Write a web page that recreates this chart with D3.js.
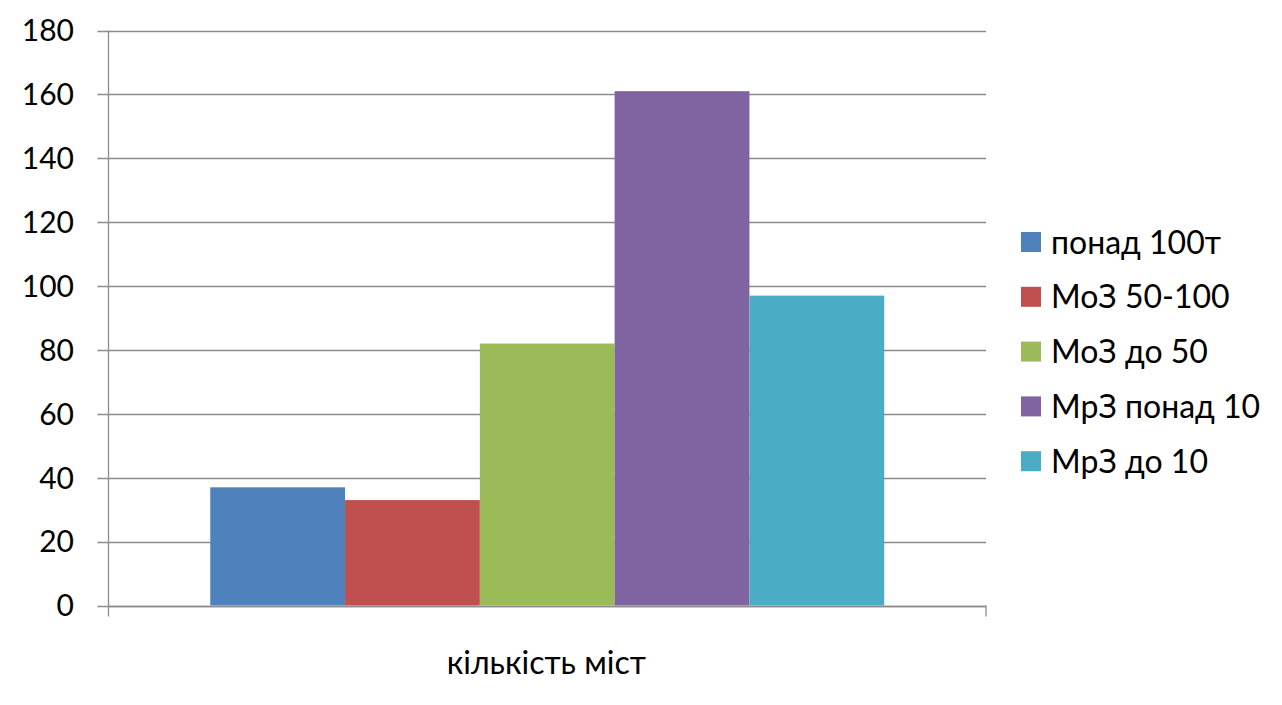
<!DOCTYPE html>
<html><head><meta charset="utf-8">
<script src="https://cdn.jsdelivr.net/npm/d3@7"></script>
<style>body{margin:0;background:#fff}svg{display:block}text{font-family:Lato,"Open Sans",sans-serif;fill:#000}</style>
</head><body><svg id="c" width="1282" height="705"></svg>
<script>
const categories = ["кількість міст"];
const seriesNames = ["понад 100т", "МоЗ 50-100", "МоЗ до 50", "МрЗ понад 10", "МрЗ до 10"];
const seriesValues = [37, 33, 82, 161, 97];
const seriesColors = ["#4F81BD", "#C0504D", "#9BBB59", "#8064A2", "#4BACC6"];
const yTicks = [0, 20, 40, 60, 80, 100, 120, 140, 160, 180];

const svg = d3.select("#c");
const m = {l:108.5, r:986, t:30.5, b:605.5};
const y = d3.scaleLinear().domain([0,180]).range([m.b, m.t]);
const x0 = d3.scaleBand().domain(categories).range([m.l, m.r]).paddingInner(0).paddingOuter(0.151);
const x1 = d3.scaleBand().domain(seriesNames).range([0, x0.bandwidth()]);

// gridlines
svg.append("g").selectAll("line").data(yTicks).join("line")
  .attr("x1", m.l-11).attr("x2", m.r).attr("y1", d=>Math.round(y(d))+0.5).attr("y2", d=>Math.round(y(d))+0.5)
  .attr("stroke", "#8c8c8c").attr("stroke-width", 1.3);

// bars
svg.append("g").selectAll("rect").data(seriesNames).join("rect")
  .attr("x", (d)=>x0(categories[0]) + x1(d))
  .attr("width", x1.bandwidth())
  .attr("y", (d,i)=>y(seriesValues[i]))
  .attr("height", (d,i)=>y(0)-y(seriesValues[i]))
  .attr("fill", (d,i)=>seriesColors[i]);

// axes lines
svg.append("line").attr("x1", m.l).attr("x2", m.l).attr("y1", m.t).attr("y2", m.b+11)
  .attr("stroke", "#8c8c8c").attr("stroke-width", 1.3);
svg.append("line").attr("x1", m.r).attr("x2", m.r).attr("y1", m.b).attr("y2", m.b+11)
  .attr("stroke", "#8c8c8c").attr("stroke-width", 1.3);
svg.append("line").attr("x1", m.l).attr("x2", m.r).attr("y1", Math.round(y(0))+0.5).attr("y2", Math.round(y(0))+0.5)
  .attr("stroke", "#8c8c8c").attr("stroke-width", 1.3);

// y tick labels
svg.append("g").selectAll("text").data(yTicks).join("text")
  .attr("x", 74).attr("y", d=>y(d)).attr("dy", "0.36em")
  .attr("text-anchor", "end").style("font-size", "30px").text(d=>d);

// x label
svg.append("text").attr("x", x0(categories[0]) + x0.bandwidth()/2 - 1).attr("y", 674)
  .attr("text-anchor", "middle").style("font-size", "32px").text(categories[0]);

// legend
const lg = svg.append("g").selectAll("g").data(seriesNames).join("g")
  .attr("transform", (d,i)=>`translate(1021,${242 + i*54.8})`);
lg.append("rect").attr("x",0).attr("y",-10).attr("width",20).attr("height",20).attr("fill",(d,i)=>seriesColors[i]);
lg.append("text").attr("x", 30).attr("y", 0).attr("dy","0.36em").style("font-size","32px").text(d=>d);
</script></body></html>
